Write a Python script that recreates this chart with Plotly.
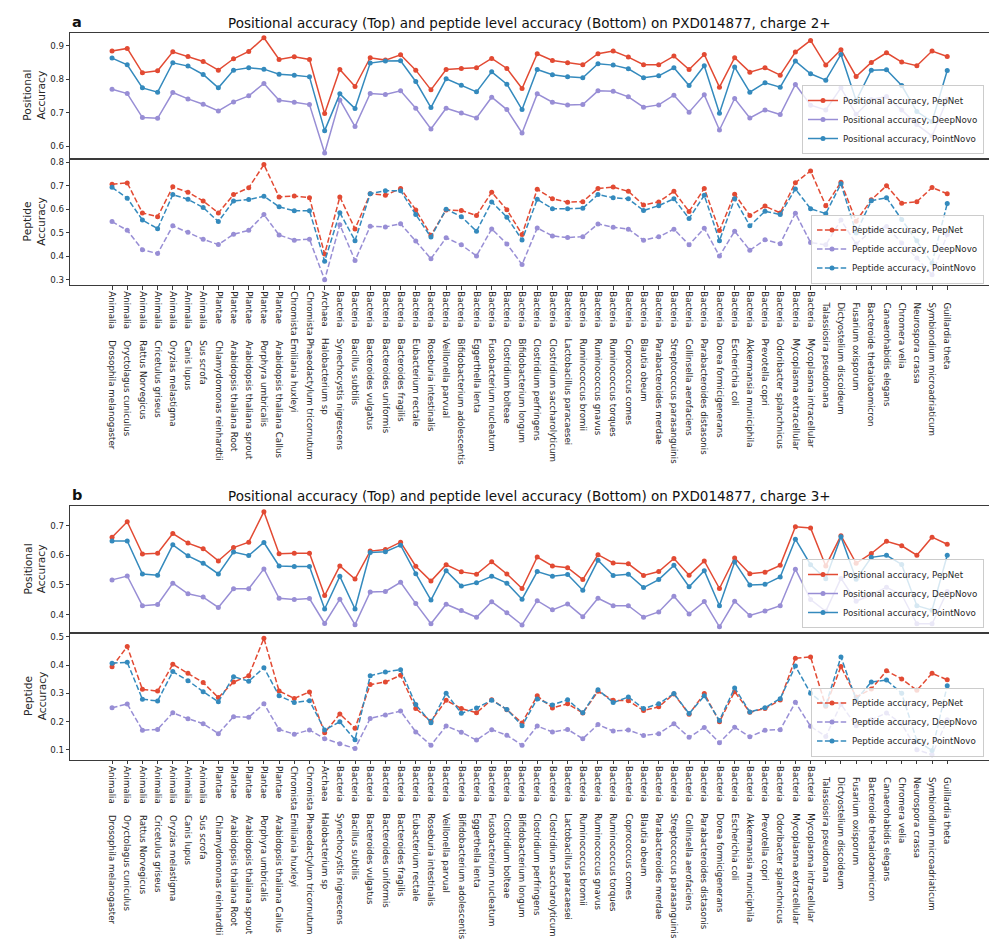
import plotly.graph_objects as go

W, H = 997, 949

kingdoms = ["Animalia"] * 7 + ["Plantae"] * 5 + ["Chromista"] * 2 + ["Archaea"] + ["Bacteria"] * 32 + [""] * 9
species = [
    "Drosophila melanogaster", "Oryctolagus cuniculus", "Rattus Norvegicus", "Cricetulus griseus",
    "Oryzias melastigma", "Canis lupus", "Sus scrofa", "Chlamydomonas reinhardtii",
    "Arabidopsis thaliana Root", "Arabidopsis thaliana sprout", "Porphyra umbricalis",
    "Arabidopsis thaliana Callus", "Emiliania huxleyi", "Phaeodactylum tricornutum",
    "Halobacterium sp", "Synechocystis nigrescens", "Bacillus subtilis", "Bacteroides vulgatus",
    "Bacteroides uniformis", "Bacteroides fragilis", "Eubacterium rectale", "Roseburia intestinalis",
    "Veillonella parvual", "Bifidobacterium adolescentis", "Eggerthella lenta",
    "Fusobacterium nucleatum", "Clostridium bolteae", "Bifidobacterium longum",
    "Clostridium perfringens", "Clostridium saccharolyticum", "Lactobacillus paracaesei",
    "Ruminococcus bromii", "Ruminococcus gnavus", "Ruminococcus torques", "Coprococcus comes",
    "Blautia obeum", "Parabacteroides merdae", "Streptococcus parasanguinis",
    "Collinsella aerofaciens", "Parabacteroides distasonis", "Dorea formicigenerans",
    "Escherichia coli", "Akkermansia municiphila", "Prevotella copri", "Odoribacter splanchnicus",
    "Mycoplasma extracellular", "Mycoplasma intracellular", "Talassiosira pseudonana",
    "Dictyostelium discoideum", "Fusarium oxisporum", "Bacteroide thetaiotaomicron",
    "Canaerohabidis elegans", "Chromera velia", "Neurospora crassa",
    "Symbiondium microadriaticum", "Guillardia theta",
]

# charge 2+
pos2_pepnet = [0.884, 0.892, 0.819, 0.825, 0.882, 0.868, 0.853, 0.827, 0.861, 0.883,
               0.924, 0.859, 0.867, 0.859, 0.697, 0.829, 0.778, 0.864, 0.857, 0.873,
               0.827, 0.768, 0.829, 0.832, 0.834, 0.862, 0.832, 0.772,
               0.876, 0.856, 0.849, 0.843, 0.876, 0.884, 0.866, 0.843, 0.843, 0.869,
               0.829, 0.874, 0.776, 0.864, 0.821, 0.834, 0.812, 0.881, 0.916, 0.842,
               0.888, 0.808, 0.850, 0.879, 0.851, 0.840, 0.884, 0.868]
pos2_deepnovo = [0.770, 0.757, 0.685, 0.683, 0.760, 0.741, 0.725, 0.705, 0.732, 0.750,
                 0.787, 0.737, 0.731, 0.724, 0.579, 0.738, 0.658, 0.757, 0.754, 0.765,
                 0.713, 0.651, 0.713, 0.699, 0.684, 0.746, 0.709, 0.639,
                 0.756, 0.731, 0.723, 0.724, 0.765, 0.764, 0.747, 0.716, 0.723, 0.752,
                 0.701, 0.753, 0.648, 0.742, 0.684, 0.708, 0.694, 0.784, 0.722, 0.708,
                 0.774, 0.695, 0.739, 0.748, 0.708, 0.664, 0.630, 0.740]
pos2_pointnovo = [0.863, 0.843, 0.774, 0.761, 0.849, 0.839, 0.814, 0.774, 0.827, 0.834,
                  0.830, 0.815, 0.812, 0.807, 0.646, 0.756, 0.712, 0.848, 0.854, 0.855,
                  0.793, 0.715, 0.801, 0.782, 0.762, 0.822, 0.785, 0.709,
                  0.829, 0.813, 0.807, 0.804, 0.846, 0.842, 0.831, 0.804, 0.810, 0.834,
                  0.781, 0.840, 0.698, 0.836, 0.761, 0.789, 0.776, 0.854, 0.816, 0.797,
                  0.874, 0.736, 0.827, 0.828, 0.781, 0.703, 0.673, 0.826]
pep2_pepnet = [0.706, 0.712, 0.584, 0.568, 0.695, 0.672, 0.635, 0.584, 0.662, 0.691,
               0.790, 0.652, 0.656, 0.649, 0.409, 0.652, 0.516, 0.666, 0.659, 0.688,
               0.597, 0.489, 0.597, 0.594, 0.573, 0.672, 0.598, 0.492,
               0.685, 0.644, 0.630, 0.632, 0.688, 0.694, 0.676, 0.618, 0.631, 0.676,
               0.590, 0.688, 0.509, 0.664, 0.573, 0.613, 0.584, 0.713, 0.763, 0.615,
               0.715, 0.549, 0.640, 0.700, 0.625, 0.632, 0.692, 0.666]
pep2_deepnovo = [0.547, 0.510, 0.427, 0.411, 0.529, 0.502, 0.472, 0.449, 0.493, 0.510,
                 0.577, 0.490, 0.468, 0.472, 0.299, 0.534, 0.381, 0.527, 0.524, 0.538,
                 0.464, 0.389, 0.478, 0.448, 0.401, 0.516, 0.452, 0.364,
                 0.520, 0.486, 0.479, 0.483, 0.537, 0.523, 0.515, 0.468, 0.482, 0.515,
                 0.448, 0.519, 0.400, 0.506, 0.425, 0.470, 0.453, 0.583, 0.458, 0.448,
                 0.554, 0.452, 0.507, 0.526, 0.456, 0.392, 0.321, 0.492]
pep2_pointnovo = [0.693, 0.647, 0.554, 0.517, 0.662, 0.642, 0.607, 0.547, 0.635, 0.641,
                  0.655, 0.610, 0.593, 0.593, 0.378, 0.585, 0.466, 0.666, 0.678, 0.679,
                  0.577, 0.481, 0.600, 0.568, 0.506, 0.631, 0.566, 0.469,
                  0.642, 0.602, 0.602, 0.604, 0.662, 0.649, 0.644, 0.594, 0.615, 0.644,
                  0.560, 0.659, 0.466, 0.644, 0.529, 0.591, 0.577, 0.686, 0.602, 0.581,
                  0.708, 0.499, 0.636, 0.649, 0.556, 0.466, 0.371, 0.624]

# charge 3+
pos3_pepnet = [0.661, 0.713, 0.604, 0.607, 0.673, 0.641, 0.622, 0.581, 0.626, 0.644,
               0.747, 0.605, 0.607, 0.607, 0.464, 0.564, 0.520, 0.614, 0.619, 0.644,
               0.563, 0.513, 0.568, 0.544, 0.536, 0.578, 0.537, 0.488,
               0.594, 0.564, 0.558, 0.518, 0.602, 0.574, 0.571, 0.532, 0.545, 0.589,
               0.533, 0.581, 0.488, 0.591, 0.538, 0.543, 0.566, 0.696, 0.692, 0.564,
               0.666, 0.573, 0.606, 0.647, 0.632, 0.600, 0.661, 0.637]
pos3_deepnovo = [0.517, 0.530, 0.430, 0.434, 0.506, 0.470, 0.459, 0.424, 0.487, 0.487,
                 0.554, 0.455, 0.451, 0.454, 0.370, 0.452, 0.366, 0.476, 0.478, 0.509,
                 0.437, 0.369, 0.435, 0.414, 0.391, 0.443, 0.406, 0.365,
                 0.447, 0.416, 0.436, 0.393, 0.455, 0.430, 0.430, 0.391, 0.409, 0.462,
                 0.402, 0.444, 0.359, 0.445, 0.397, 0.412, 0.430, 0.553, 0.451, 0.411,
                 0.522, 0.445, 0.467, 0.492, 0.467, 0.369, 0.369, 0.478]
pos3_pointnovo = [0.648, 0.648, 0.537, 0.533, 0.635, 0.598, 0.573, 0.537, 0.611, 0.599,
                  0.643, 0.564, 0.562, 0.562, 0.419, 0.529, 0.419, 0.609, 0.612, 0.634,
                  0.538, 0.449, 0.548, 0.496, 0.507, 0.529, 0.506, 0.452,
                  0.545, 0.529, 0.535, 0.482, 0.583, 0.532, 0.536, 0.491, 0.518, 0.566,
                  0.494, 0.548, 0.430, 0.577, 0.500, 0.502, 0.527, 0.654, 0.568, 0.521,
                  0.662, 0.519, 0.593, 0.600, 0.569, 0.430, 0.415, 0.600]
pep3_pepnet = [0.394, 0.466, 0.314, 0.308, 0.403, 0.371, 0.338, 0.285, 0.340, 0.362,
               0.495, 0.308, 0.282, 0.305, 0.160, 0.227, 0.176, 0.331, 0.340, 0.364,
               0.246, 0.201, 0.275, 0.246, 0.231, 0.277, 0.242, 0.195,
               0.291, 0.248, 0.263, 0.230, 0.307, 0.275, 0.274, 0.239, 0.252, 0.298,
               0.226, 0.299, 0.199, 0.306, 0.233, 0.246, 0.276, 0.424, 0.429, 0.254,
               0.395, 0.287, 0.315, 0.380, 0.351, 0.311, 0.371, 0.348]
pep3_deepnovo = [0.249, 0.262, 0.169, 0.172, 0.231, 0.210, 0.192, 0.157, 0.217, 0.215,
                 0.263, 0.172, 0.155, 0.170, 0.139, 0.121, 0.104, 0.211, 0.223, 0.237,
                 0.163, 0.116, 0.184, 0.162, 0.134, 0.171, 0.151, 0.116,
                 0.184, 0.163, 0.172, 0.139, 0.189, 0.166, 0.170, 0.150, 0.157, 0.192,
                 0.144, 0.179, 0.125, 0.180, 0.146, 0.169, 0.171, 0.268, 0.183, 0.147,
                 0.261, 0.185, 0.206, 0.230, 0.192, 0.100, 0.082, 0.206]
pep3_pointnovo = [0.407, 0.410, 0.279, 0.273, 0.377, 0.345, 0.306, 0.270, 0.359, 0.343,
                  0.391, 0.291, 0.267, 0.274, 0.170, 0.199, 0.135, 0.362, 0.376, 0.384,
                  0.260, 0.196, 0.300, 0.229, 0.248, 0.275, 0.243, 0.185,
                  0.280, 0.259, 0.277, 0.231, 0.313, 0.267, 0.287, 0.246, 0.263, 0.299,
                  0.228, 0.291, 0.204, 0.319, 0.234, 0.249, 0.281, 0.397, 0.300, 0.258,
                  0.429, 0.277, 0.340, 0.347, 0.300, 0.132, 0.097, 0.327]

methods = ["PepNet", "DeepNovo", "PointNovo"]
colors = {"PepNet": "#E24A33", "DeepNovo": "#988ED5", "PointNovo": "#348ABD"}

# tick labels: kingdom + padding + species (padding approximates the aligned column)
kw = {"Animalia": 4.352, "Plantae": 3.748, "Chromista": 5.133, "Archaea": 4.12, "Bacteria": 4.158}
NB = "\u00a0"
ticktext = []
for k, s in zip(kingdoms, species):
    if k:
        n = max(1, round((5.5 - kw[k]) / 0.318))
        ticktext.append(k + NB * n + s)
    else:
        ticktext.append(NB * 4 + s)

x = list(range(len(species)))

FONT = "DejaVu Sans, Verdana, sans-serif"
TXT = "#262626"
FRAME = "#3a3a3a"

def py(px):
    return 1 - px / H

def px_x(px):
    return px / W

fig = go.Figure()

panels = [
    ("y", {"PepNet": pos2_pepnet, "DeepNovo": pos2_deepnovo, "PointNovo": pos2_pointnovo}, False, "legend", "Positional accuracy"),
    ("y2", {"PepNet": pep2_pepnet, "DeepNovo": pep2_deepnovo, "PointNovo": pep2_pointnovo}, True, "legend2", "Peptide accuracy"),
    ("y3", {"PepNet": pos3_pepnet, "DeepNovo": pos3_deepnovo, "PointNovo": pos3_pointnovo}, False, "legend3", "Positional accuracy"),
    ("y4", {"PepNet": pep3_pepnet, "DeepNovo": pep3_deepnovo, "PointNovo": pep3_pointnovo}, True, "legend4", "Peptide accuracy"),
]
for i, (yid, data, dashed, leg, prefix) in enumerate(panels):
    xid = "x" if i == 0 else "x%d" % (i + 1)
    for m in methods:
        fig.add_trace(go.Scatter(
            x=x, y=data[m], mode="lines+markers", name=f"{prefix}, {m}",
            xaxis=xid, yaxis=yid, legend=leg,
            line=dict(color=colors[m], width=1.5, dash="5.5px,2.4px" if dashed else "solid"),
            marker=dict(color=colors[m], size=5),
        ))

xdom = [px_x(62.3), px_x(981)]
ydoms = {
    "y": [py(150.7), py(24.7)],
    "y2": [py(277), py(150.7)],
    "y3": [py(625), py(498)],
    "y4": [py(751.7), py(625)],
}
yranges = {"y": [0.562, 0.939], "y2": [0.277, 0.815], "y3": [0.338, 0.766], "y4": [0.0645, 0.514]}
yticks = {"y": [0.6, 0.7, 0.8, 0.9], "y2": [0.3, 0.4, 0.5, 0.6, 0.7, 0.8],
          "y3": [0.4, 0.5, 0.6, 0.7], "y4": [0.1, 0.2, 0.3, 0.4, 0.5]}

layout = dict(
    width=W, height=H, margin=dict(l=0, r=0, t=0, b=0),
    paper_bgcolor="white", plot_bgcolor="white",
    font=dict(family=FONT, color=TXT, size=9),
    showlegend=True,
)
for i, yid in enumerate(["y", "y2", "y3", "y4"]):
    xname = "xaxis" if i == 0 else "xaxis%d" % (i + 1)
    yname = "yaxis" if i == 0 else "yaxis%d" % (i + 1)
    bottom = i in (1, 3)
    layout[xname] = dict(
        domain=xdom, range=[-2.75, 57.75], anchor=yid, showgrid=False, zeroline=False,
        showline=True, mirror=True, linecolor=FRAME, linewidth=1.2,
        tickmode="array", tickvals=x, ticktext=ticktext,
        showticklabels=bottom, ticks="outside" if bottom else "", ticklen=3.5, tickwidth=1,
        tickcolor=FRAME, tickangle=90, tickfont=dict(family=FONT, size=8.7, color=TXT),
        automargin=False,
    )
    layout[yname] = dict(
        domain=ydoms[yid], range=yranges[yid], anchor="x" if i == 0 else "x%d" % (i + 1),
        showgrid=False, zeroline=False, showline=True, mirror=True, linecolor=FRAME, linewidth=1.2,
        tickmode="array", tickvals=yticks[yid], tickformat=".1f",
        ticks="outside", ticklen=3.5, tickwidth=1, tickcolor=FRAME,
        tickfont=dict(family=FONT, size=8.7, color=TXT), automargin=False,
    )

leg_common = dict(bgcolor="rgba(255,255,255,0.8)", bordercolor="#cccccc", borderwidth=1,
                  font=dict(family=FONT, size=8.7, color=TXT), xanchor="right", yanchor="bottom",
                  tracegroupgap=0, itemwidth=30)
layout["legend"] = dict(leg_common, x=px_x(976), y=py(146))
layout["legend2"] = dict(leg_common, x=px_x(976), y=py(275.5))
layout["legend3"] = dict(leg_common, x=px_x(976), y=py(620))
layout["legend4"] = dict(leg_common, x=px_x(976), y=py(748.5))

fig.update_layout(**layout)

cx = (xdom[0] + xdom[1]) / 2
titles = [
    ("Positional accuracy (Top) and peptide level accuracy (Bottom) on PXD014877, charge 2+", 15, "a", 14),
    ("Positional accuracy (Top) and peptide level accuracy (Bottom) on PXD014877, charge 3+", 488, "b", 487),
]
for text, ty, letter, ly in titles:
    fig.add_annotation(text=text, x=cx, y=py(ty), xref="paper", yref="paper", showarrow=False,
                       xanchor="center", yanchor="middle", font=dict(family=FONT, size=13.5, color="#111"))
    fig.add_annotation(text="<b>%s</b>" % letter, x=px_x(62), y=py(ly), xref="paper", yref="paper",
                       showarrow=False, xanchor="left", yanchor="middle",
                       font=dict(family=FONT, size=14.5, color="#111"))

ylabels = [("Positional<br>Accuracy", (24.7 + 150.7) / 2), ("Peptide<br>Accuracy", (150.7 + 277) / 2),
           ("Positional<br>Accuracy", (498 + 625) / 2), ("Peptide<br>Accuracy", (625 + 751.7) / 2)]
for text, cy in ylabels:
    fig.add_annotation(text=text, x=px_x(27), y=py(cy), xref="paper", yref="paper", showarrow=False,
                       textangle=-90, xanchor="center", yanchor="middle",
                       font=dict(family=FONT, size=10.7, color=TXT))

fig.write_html("out.html")
